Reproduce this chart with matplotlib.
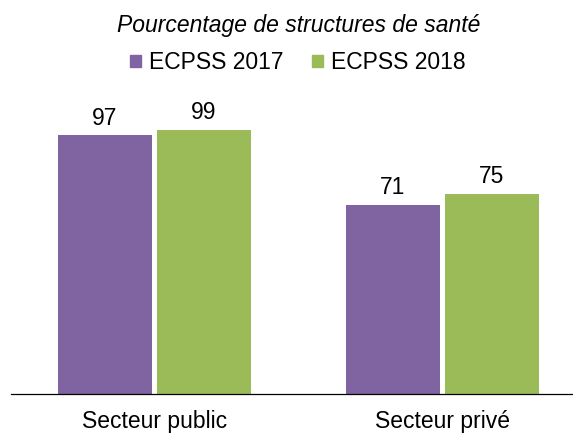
import numpy as np
import matplotlib
matplotlib.use('Agg')
from matplotlib import pyplot as plt
from matplotlib.patches import Patch

plt.rcParams['font.family'] = ['Liberation Sans', 'DejaVu Sans']

# donnees
categories = ['Secteur public', 'Secteur privé']
series_names = ['ECPSS 2017', 'ECPSS 2018']
vals_2017 = [97, 71]
vals_2018 = [99, 75]
colors = ['#8064A2', '#9BBB59']

fig = plt.figure(figsize=(5.73, 4.34), dpi=100)
ax = fig.add_axes([0.0192, 0.0922, 0.9808, 0.6774])

x = np.arange(len(categories))
w = 0.326
off = 0.172
b1 = ax.bar(x - off, vals_2017, w, color=colors[0])
b2 = ax.bar(x + off, vals_2018, w, color=colors[1])

# etiquettes de valeurs
for bars in (b1, b2):
    for b in bars:
        ax.annotate(str(int(b.get_height())), (b.get_x() + b.get_width() / 2, b.get_height()),
                    xytext=(0, 4), textcoords='offset points', ha='center', va='bottom', fontsize=16.5)

ax.set_xlim(-0.4983, 1.4531)
ax.set_ylim(0, 110.25)
ax.set_yticks([])
ax.set_xticks(x)
ax.set_xticklabels(categories, fontsize=16.5)
ax.tick_params(axis='x', length=0, pad=11.5)
for s in ['top', 'left', 'right']:
    ax.spines[s].set_visible(False)
ax.spines['bottom'].set_linewidth(0.9)

fig.text(0.521, 0.927, 'Pourcentage de structures de santé', ha='center', va='baseline',
         fontsize=16.5, style='italic')

handles = [Patch(color=c) for c in colors]
fig.legend(handles, series_names, loc='center', bbox_to_anchor=(0.52, 0.855), ncol=2, frameon=False,
           fontsize=16.5, handlelength=0.45, handleheight=0.45, handletextpad=0.36,
           columnspacing=1.27, borderpad=0)

plt.savefig('out.png', dpi=100)
